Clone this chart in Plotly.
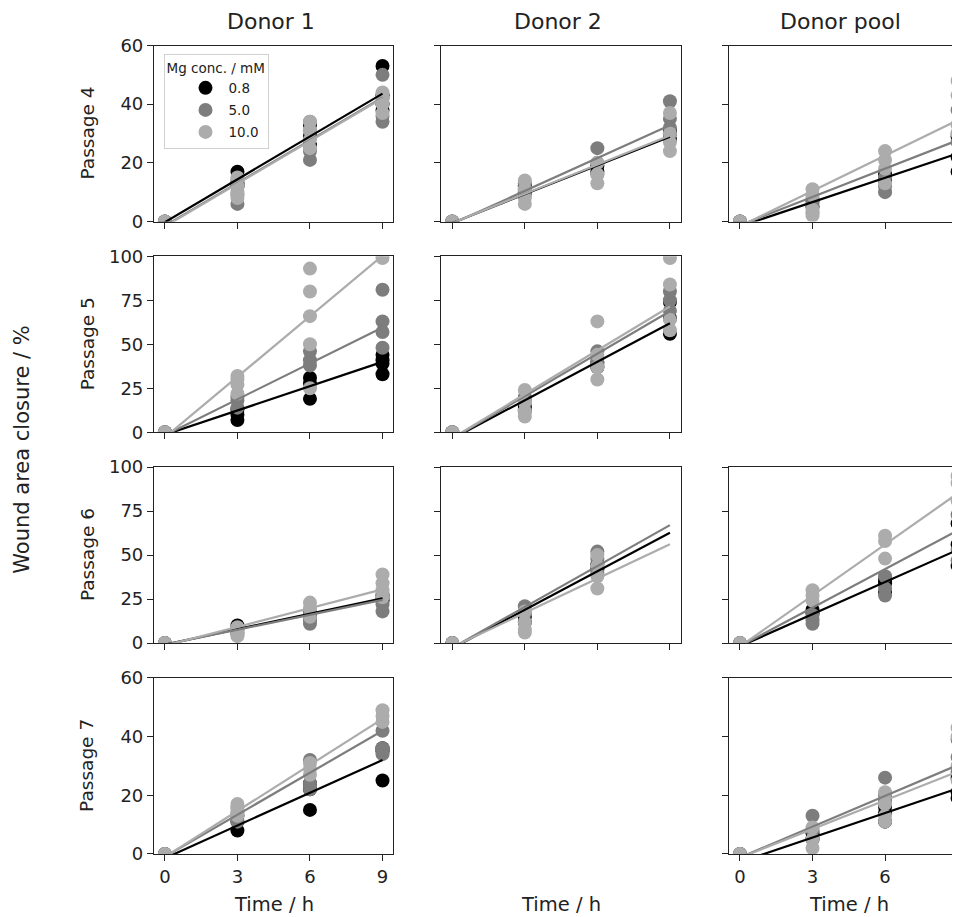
import plotly.graph_objects as go

# ---------------- data ----------------
TIMES = [0, 3, 6, 9]
CONCS = ["0.8", "5.0", "10.0"]
COLORS = {"0.8": "#000000", "5.0": "#7d7d7d", "10.0": "#acacac"}
DONORS = ["Donor 1", "Donor 2", "Donor pool"]
PASSAGES = ["Passage 4", "Passage 5", "Passage 6", "Passage 7"]
Y_MAX = [60, 100, 100, 60]
Y_TICKS = [[0, 20, 40, 60], [0, 25, 50, 75, 100], [0, 25, 50, 75, 100], [0, 20, 40, 60]]
X_TICKS = [0, 3, 6, 9]

# replicate values (wound area closure, %) at each time in TIMES
p4_donor1 = {
    "0.8": [[0], [17, 13, 12], [33, 29, 26], [53, 43, 40, 38]],
    "5.0": [[0], [6, 9, 12, 14], [21, 24, 34, 31], [50, 36, 34, 42]],
    "10.0": [[0], [8, 10, 12, 15], [25, 28, 31, 34], [44, 42, 40, 37]],
}
p5_donor1 = {
    "0.8": [[0], [7, 10, 13], [19, 28, 31], [33, 39, 41, 44]],
    "5.0": [[0], [14, 18, 20], [38, 41, 46], [48, 57, 63, 81]],
    "10.0": [[0], [22, 27, 30, 32], [25, 50, 66, 80, 93], [99]],
}
p6_donor1 = {
    "0.8": [[0], [8, 10], [14, 16], [24, 25, 27]],
    "5.0": [[0], [5, 6], [11, 13, 18], [18, 22, 28]],
    "10.0": [[0], [4, 7, 9], [15, 20, 23], [26, 30, 34, 39]],
}
p7_donor1 = {
    "0.8": [[0], [8, 11, 13], [15, 22, 24], [25, 35, 36]],
    "5.0": [[0], [11, 14, 16], [22, 24, 32], [34, 36, 42]],
    "10.0": [[0], [13, 15, 17], [27, 29, 31], [45, 47, 49]],
}
p4_donor2 = {
    "0.8": [[0], [10, 12], [17, 19], [28, 30, 31]],
    "5.0": [[0], [9, 11, 13], [16, 20, 25], [32, 35, 41]],
    "10.0": [[0], [6, 8, 11, 14], [13, 16, 20], [24, 27, 30, 37]],
}
p5_donor2 = {
    "0.8": [[0], [13, 15], [37, 40], [56, 65, 74]],
    "5.0": [[0], [12, 18, 20], [39, 42, 46], [69, 75, 80]],
    "10.0": [[0], [9, 12, 17, 24], [30, 37, 44, 63], [58, 64, 84, 99]],
}
p6_donor2 = {
    "0.8": [[0], [12, 15], [42, 45], []],
    "5.0": [[0], [17, 21], [40, 48, 52], []],
    "10.0": [[0], [6, 8, 12, 18], [31, 38, 44, 50], []],
}
p4_pool = {
    "0.8": [[0], [5, 7], [14, 16], [17, 22, 29]],
    "5.0": [[0], [3, 6, 8], [10, 12, 15], [27, 30, 38]],
    "10.0": [[0], [2, 4, 9, 11], [13, 18, 21, 24], [30, 33, 43, 48]],
}
p6_pool = {
    "0.8": [[0], [17, 19], [29, 34, 36], [44, 56, 68]],
    "5.0": [[0], [11, 13, 16], [27, 31, 38], [47, 53, 73]],
    "10.0": [[0], [24, 27, 30], [48, 58, 61], [81, 91, 95]],
}
p7_pool = {
    "0.8": [[0], [5, 7], [11, 14, 16], [19, 21, 26]],
    "5.0": [[0], [8, 13], [18, 20, 26], [28, 33, 39]],
    "10.0": [[0], [2, 5, 9], [11, 13, 17, 21], [25, 30, 40, 43]],
}

# linear fits (slope %/h, intercept %)
p4_donor1_fit = {"0.8": (4.87, -0.24), "5.0": (4.86, -1.46), "10.0": (4.86, -1.7)}
p5_donor1_fit = {"0.8": (4.6, -1.38), "5.0": (6.81, -1.7), "10.0": (11.47, -2.87)}
p6_donor1_fit = {"0.8": (2.93, -0.88), "5.0": (2.82, -0.85), "10.0": (3.55, -1.42)}
p7_donor1_fit = {"0.8": (3.72, -1.49), "5.0": (4.77, -0.95), "10.0": (5.23, -1.05)}
p4_donor2_fit = {"0.8": (3.27, -0.49), "5.0": (3.73, -0.75), "10.0": (3.31, -0.5)}
p5_donor2_fit = {"0.8": (7.29, -3.65), "5.0": (8.04, -3.6), "10.0": (8.31, -3.3)}
p6_donor2_fit = {"0.8": (7.29, -2.9), "5.0": (7.75, -2.7), "10.0": (6.5, -2.3)}
p4_pool_fit = {"0.8": (2.76, -1.66), "5.0": (3.22, -1.29), "10.0": (4.01, -1.6)}
p6_pool_fit = {"0.8": (6.09, -1.83), "5.0": (7.31, -1.83), "10.0": (9.66, -1.93)}
p7_pool_fit = {"0.8": (2.79, -2.79), "5.0": (3.5, -1.23), "10.0": (3.26, -1.3)}

PANELS = [
    [(p4_donor1, p4_donor1_fit), (p4_donor2, p4_donor2_fit), (p4_pool, p4_pool_fit)],
    [(p5_donor1, p5_donor1_fit), (p5_donor2, p5_donor2_fit), None],
    [(p6_donor1, p6_donor1_fit), (p6_donor2, p6_donor2_fit), (p6_pool, p6_pool_fit)],
    [(p7_donor1, p7_donor1_fit), None, (p7_pool, p7_pool_fit)],
]

# ---------------- layout geometry (page pixels) ----------------
W, H = 960, 917
OFF = 8  # default page body margin
COL_LEFT = [154.0, 441.4, 729.1]
PANEL_W = 239.4
X_RANGE = [-0.45, 9.45]
ROW_TOP = [45.5, 256.3, 467.1, 677.9]
PANEL_H = 176.0
TITLE_X = [271, 558, 840]
FONT = "DejaVu Sans"
AX_COLOR = "#222222"


def fx(px):
    return (px - OFF) / W


def fy(py):
    return 1 - (py - OFF) / H


fig = go.Figure()
layout_axes = {}

for r in range(4):
    for c in range(3):
        n = r * 3 + c + 1
        xname = "xaxis" if n == 1 else f"xaxis{n}"
        yname = "yaxis" if n == 1 else f"yaxis{n}"
        xref = "x" if n == 1 else f"x{n}"
        yref = "y" if n == 1 else f"y{n}"
        left = COL_LEFT[c]
        right = COL_LEFT[c] + PANEL_W
        xr = list(X_RANGE)
        if fx(right) > 1.0:
            xr[1] = X_RANGE[0] + (W + OFF - left) / PANEL_W * (X_RANGE[1] - X_RANGE[0])
            right = W + OFF
        layout_axes[xname] = dict(
            domain=[fx(left), fx(right)], anchor=yref, range=xr, tickvals=X_TICKS,
            showticklabels=(r == 3), ticks="outside", ticklen=6, tickwidth=1.2,
            tickcolor=AX_COLOR, showline=True, linecolor=AX_COLOR, linewidth=1.2,
            mirror=True, showgrid=False, zeroline=False, ticklabeloverflow="allow",
            automargin=False,
            tickfont=dict(size=18, color=AX_COLOR, family=FONT),
        )
        layout_axes[yname] = dict(
            domain=[fy(ROW_TOP[r] + PANEL_H), fy(ROW_TOP[r])], anchor=xref,
            range=[0, Y_MAX[r]], tickvals=Y_TICKS[r],
            showticklabels=(c == 0), ticks="outside", ticklen=6, tickwidth=1.2,
            tickcolor=AX_COLOR, showline=True, linecolor=AX_COLOR, linewidth=1.2,
            mirror=True, showgrid=False, zeroline=False, automargin=False,
            tickfont=dict(size=18, color=AX_COLOR, family=FONT),
        )
        panel = PANELS[r][c]
        if panel is None:
            continue
        pts, fit = panel
        first = (r == 0 and c == 0)
        for conc in CONCS:
            xs, ys = [], []
            for t, vals in zip(TIMES, pts[conc]):
                xs += [t] * len(vals)
                ys += vals
            fig.add_trace(go.Scatter(
                x=xs, y=ys, mode="markers", xaxis=xref, yaxis=yref,
                marker=dict(size=14, color=COLORS[conc], line=dict(width=0)),
                name=conc, legendgroup=conc, showlegend=first,
            ))
        for conc in CONCS:
            slope, icpt = fit[conc]
            lx = [TIMES[0], TIMES[-1]]
            ly = [icpt + slope * t for t in lx]
            fig.add_trace(go.Scatter(
                x=lx, y=ly, mode="lines", xaxis=xref, yaxis=yref,
                line=dict(color=COLORS[conc], width=2.2),
                legendgroup=conc, showlegend=False, hoverinfo="skip",
            ))

annotations = []
for c, name in enumerate(DONORS):
    annotations.append(dict(text=name, x=fx(TITLE_X[c]), y=fy(21), xref="paper", yref="paper",
                            showarrow=False, xanchor="center", yanchor="middle",
                            font=dict(size=22, color=AX_COLOR, family=FONT)))
    annotations.append(dict(text="Time / h", x=fx(COL_LEFT[c] + PANEL_W / 2), y=fy(904),
                            xref="paper", yref="paper",
                            showarrow=False, xanchor="center", yanchor="middle",
                            font=dict(size=19.5, color=AX_COLOR, family=FONT)))
for r, name in enumerate(PASSAGES):
    cy = fy(ROW_TOP[r] + PANEL_H / 2)
    annotations.append(dict(text=name, x=fx(87), y=cy, xref="paper", yref="paper",
                            showarrow=False, textangle=-90, xanchor="center", yanchor="middle",
                            font=dict(size=18.5, color=AX_COLOR, family=FONT)))
annotations.append(dict(text="Wound area closure / %", x=fx(22),
                        y=fy((ROW_TOP[0] + ROW_TOP[3] + PANEL_H) / 2),
                        xref="paper", yref="paper", showarrow=False, textangle=-90,
                        xanchor="center", yanchor="middle",
                        font=dict(size=21, color=AX_COLOR, family=FONT)))

fig.update_layout(
    template="none",
    width=W, height=H, autosize=False,
    margin=dict(l=0, r=0, t=0, b=0, pad=0),
    paper_bgcolor="white", plot_bgcolor="white",
    font=dict(family=FONT, color=AX_COLOR),
    annotations=annotations,
    showlegend=True,
    legend=dict(
        x=fx(163.5), y=fy(54), xanchor="left", yanchor="top",
        bgcolor="rgba(255,255,255,0.85)", bordercolor="#d0d0d0", borderwidth=1,
        font=dict(size=13.5, family=FONT, color=AX_COLOR),
        title=dict(text="Mg conc. / mM", font=dict(size=13.5, family=FONT, color=AX_COLOR)),
        tracegroupgap=1.5, itemwidth=36, indentation=18,
    ),
    **layout_axes,
)

fig.write_html("out.html")
